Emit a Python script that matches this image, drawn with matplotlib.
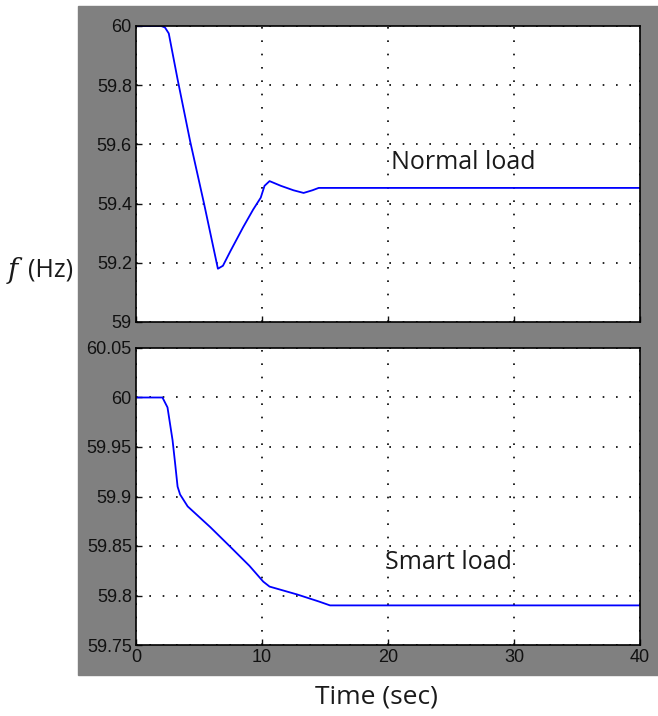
import matplotlib.pyplot as plt
from matplotlib.patches import Rectangle
import numpy as np

# normal load response (time in s, frequency in Hz)
t_normal = [0, 2.0, 2.3, 2.6, 3.3, 4.3, 5.4, 6.5, 6.9, 7.5, 8.5, 9.3, 9.9, 10.2, 10.6, 11.5, 12.5, 13.3, 14.0, 14.5, 40]
f_normal = [60, 60, 59.995, 59.975, 59.82, 59.61, 59.40, 59.18, 59.19, 59.24, 59.32, 59.38, 59.42, 59.46, 59.476, 59.46, 59.445, 59.436, 59.445, 59.453, 59.453]

# smart load response
t_smart = [0, 2.1, 2.5, 2.9, 3.1, 3.3, 3.5, 4.1, 5.9, 7.5, 9.0, 10.1, 10.6, 12.8, 14.5, 15.4, 40]
f_smart = [60, 60, 59.99, 59.957, 59.934, 59.91, 59.902, 59.89, 59.869, 59.849, 59.83, 59.814, 59.809, 59.801, 59.794, 59.79, 59.79]

ticks_normal = [59, 59.2, 59.4, 59.6, 59.8, 60]
ticklabels_normal = ["59", "59.2", "59.4", "59.6", "59.8", "60"]
ticks_smart = [59.75, 59.8, 59.85, 59.9, 59.95, 60, 60.05]
ticklabels_smart = ["59.75", "59.8", "59.85", "59.9", "59.95", "60", "60.05"]
xticks = [0, 10, 20, 30, 40]

fig = plt.figure(figsize=(6.58, 7.16), dpi=100)
# grey matlab style background, kept behind the axes
bg = Rectangle((78 / 658, 1 - 675 / 716), 1 - 78 / 658, 669 / 716,
               transform=fig.transFigure, color="#808080", zorder=-10)
fig.add_artist(bg)

left = 136 / 658
width = (640 - 136) / 658
ax1 = fig.add_axes([left, 1 - 322 / 716, width, (322 - 26) / 716])
ax2 = fig.add_axes([left, 1 - 645 / 716, width, (645 - 348) / 716])

tickfont = "Liberation Sans"
for ax in (ax1, ax2):
    ax.set_zorder(1)
    ax.set_facecolor("white")
    ax.set_xlim(0, 40)
    ax.set_xticks(xticks)
    ax.grid(True, color="black", linestyle=(0, (1, 7)), linewidth=1.2)
    ax.tick_params(direction="in", length=4, width=1, labelsize=13, colors="#111111", pad=3)
    for s in ax.spines.values():
        s.set_linewidth(1.2)

ax1.plot(t_normal, f_normal, color="#0000ff", linewidth=1.3)
ax1.set_ylim(59, 60)
ax1.set_yticks(ticks_normal)
ax1.set_yticklabels(ticklabels_normal, family=tickfont)
ax1.set_xticklabels([])
ax1.text(20.2, 59.54, "Normal load", fontsize=18, family="Open Sans", va="center",
         color="#1a1a1a")

ax2.plot(t_smart, f_smart, color="#0000ff", linewidth=1.3)
ax2.set_ylim(59.75, 60.05)
ax2.set_yticks(ticks_smart)
ax2.set_yticklabels(ticklabels_smart, family=tickfont)
ax2.set_xticklabels([str(x) for x in xticks], family=tickfont)
ax2.text(19.8, 59.833, "Smart load", fontsize=18, family="Open Sans", va="center",
         color="#1a1a1a")

fig.text(376 / 658, 1 - 697 / 716, "Time (sec)", fontsize=19, family="Open Sans",
         ha="center", va="center", color="#1a1a1a")
fig.text(8 / 658, 1 - 270 / 716, "f", fontsize=20, style="italic", family="DejaVu Serif",
         va="center", color="#1a1a1a")
fig.text(28 / 658, 1 - 270 / 716, "(Hz)", fontsize=18, family="Open Sans", va="center",
         color="#1a1a1a")

fig.savefig("out.png", dpi=100)
